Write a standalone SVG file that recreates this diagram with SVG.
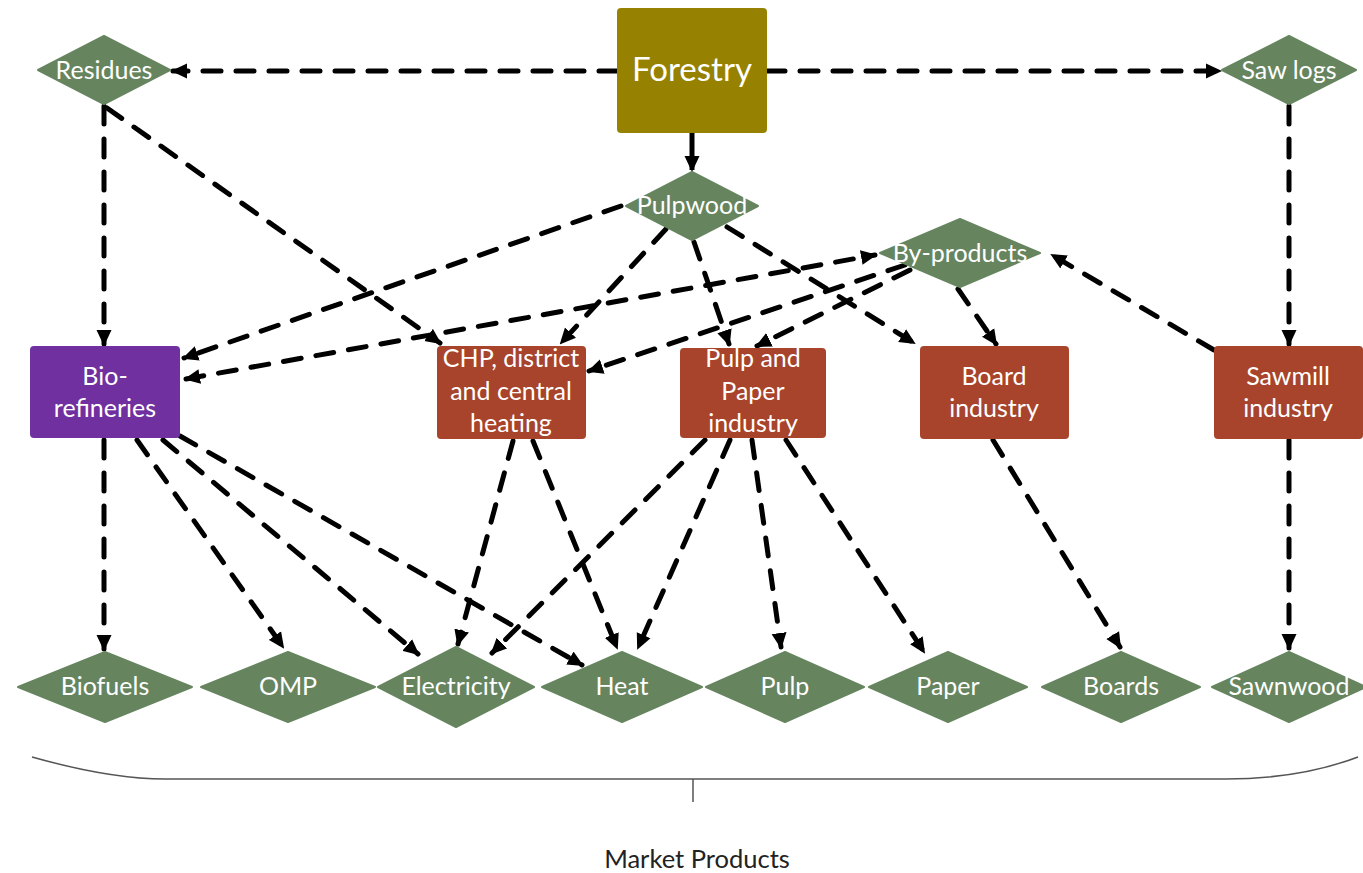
<svg xmlns="http://www.w3.org/2000/svg" width="1363" height="873" viewBox="0 0 1363 873">
<style>
.lbl{font-family:Lato,"Liberation Sans",sans-serif;font-size:25px;fill:#ffffff;text-anchor:middle}
.dia{fill:#66855F;stroke:#66855F;stroke-width:2;stroke-linejoin:round}
.red{fill:#A7442B}
.cn{fill:none;stroke:#000;stroke-width:5;stroke-dasharray:18 15;stroke-linecap:round;marker-end:url(#ah)}
</style>
<defs>
<marker id="ah" markerUnits="userSpaceOnUse" markerWidth="16" markerHeight="16" viewBox="0 0 16 16" refX="14" refY="8" orient="auto"><path d="M0,0.5 L16,8 L0,15.5 z" fill="#000"/></marker>
<marker id="ahs" markerUnits="userSpaceOnUse" markerWidth="16" markerHeight="16" viewBox="0 0 16 16" refX="14" refY="8" orient="auto-start-reverse"><path d="M0,0.5 L16,8 L0,15.5 z" fill="#000"/></marker>
</defs>
<rect width="1363" height="873" fill="#fff"/>

<g id="connectors">
<path class="cn" d="M617,71 L173,71"/>
<path class="cn" d="M767,71 L1220,71"/>
<path d="M692,133 L692,170" fill="none" stroke="#000" stroke-width="5" marker-end="url(#ah)"/>
<path class="cn" d="M104,106 L104,344"/>
<path class="cn" d="M107,108 L440,343"/>
<path class="cn" d="M621,206 L184,358"/>
<path class="cn" d="M186,379 L875,255" marker-start="url(#ahs)"/>
<path class="cn" d="M666,229 L561,343"/>
<path class="cn" d="M694,242 L729,344"/>
<path class="cn" d="M727,227 L914,343"/>
<path class="cn" d="M958,289 L996,344"/>
<path class="cn" d="M910,270 L757,346"/>
<path class="cn" d="M905,265 L589,371"/>
<path class="cn" d="M1214,350 L1052,255"/>
<path class="cn" d="M1289,106 L1289,344"/>
<path class="cn" d="M104,440 L104,649"/>
<path class="cn" d="M137,440 L283,647"/>
<path class="cn" d="M163,440 L418,654"/>
<path class="cn" d="M180,436 L582,665"/>
<path class="cn" d="M513,441 L458,644"/>
<path class="cn" d="M533,441 L617,648"/>
<path class="cn" d="M705,440 L492,653"/>
<path class="cn" d="M730,440 L638,648"/>
<path class="cn" d="M752,440 L781,647"/>
<path class="cn" d="M786,440 L924,652"/>
<path class="cn" d="M993,440 L1120,647"/>
<path class="cn" d="M1289,440 L1289,648"/>
</g>

<g id="forestry"><rect x="617" y="8" width="150" height="125" rx="4" fill="#968200"/><text class="lbl" x="692" y="81" style="font-size:33px">Forestry</text></g>
<g id="residues"><polygon class="dia" points="38,70 104,36 170,70 104,104"/><text class="lbl" x="104" y="79">Residues</text></g>
<g id="sawlogs"><polygon class="dia" points="1222,70 1289,36 1356,70 1289,104"/><text class="lbl" x="1289" y="79">Saw logs</text></g>
<g id="pulpwood"><polygon class="dia" points="626,206 692,172 758,206 692,240"/><text class="lbl" x="692" y="214">Pulpwood</text></g>
<g id="byproducts"><polygon class="dia" points="880,253 960,219 1040,253 960,287"/><text class="lbl" x="960" y="262">By-products</text></g>

<g id="biorefineries"><rect x="30" y="346" width="150" height="92" rx="4" fill="#7030A0"/><text class="lbl" x="105" y="385">Bio-</text><text class="lbl" x="105" y="417">refineries</text></g>
<g id="chp"><rect class="red" x="437" y="346" width="149" height="93" rx="4"/><text class="lbl" x="511" y="367">CHP, district</text><text class="lbl" x="511" y="400">and central</text><text class="lbl" x="511" y="432">heating</text></g>
<g id="pulppaper"><rect class="red" x="680" y="348" width="146" height="90" rx="4"/><text class="lbl" x="753" y="367">Pulp and</text><text class="lbl" x="753" y="400">Paper</text><text class="lbl" x="753" y="432">industry</text></g>
<g id="board"><rect class="red" x="920" y="346" width="149" height="93" rx="4"/><text class="lbl" x="994" y="385">Board</text><text class="lbl" x="994" y="417">industry</text></g>
<g id="sawmill"><rect class="red" x="1214" y="346" width="149" height="93" rx="4"/><text class="lbl" x="1288" y="385">Sawmill</text><text class="lbl" x="1288" y="417">industry</text></g>

<g id="biofuels"><polygon class="dia" points="18,687 105,652 192,687 105,722"/><text class="lbl" x="105" y="695">Biofuels</text></g>
<g id="omp"><polygon class="dia" points="201,687 288,652 375,687 288,722"/><text class="lbl" x="288" y="695">OMP</text></g>
<g id="electricity"><polygon class="dia" points="378,687 456,647 534,687 456,727"/><text class="lbl" x="456" y="695">Electricity</text></g>
<g id="heat"><polygon class="dia" points="542,687 622,652 702,687 622,722"/><text class="lbl" x="622" y="695">Heat</text></g>
<g id="pulp"><polygon class="dia" points="706,687 785,652 864,687 785,722"/><text class="lbl" x="785" y="695">Pulp</text></g>
<g id="paper"><polygon class="dia" points="869,687 948,652 1027,687 948,722"/><text class="lbl" x="948" y="695">Paper</text></g>
<g id="boards"><polygon class="dia" points="1042,687 1121,652 1200,687 1121,722"/><text class="lbl" x="1121" y="695">Boards</text></g>
<g id="sawnwood"><polygon class="dia" points="1212,687 1289,652 1366,687 1289,722"/><text class="lbl" x="1289" y="695">Sawnwood</text></g>

<g id="brace">
<path d="M32,757 Q110,779 165,779 L1225,779 Q1300,779 1358,757 M693,779 L693,802" fill="none" stroke="#555" stroke-width="1.5"/>
<text x="697" y="868" style="font-family:Lato,'Liberation Sans',sans-serif;font-size:25.5px;fill:#222;text-anchor:middle">Market Products</text>
</g>
</svg>
